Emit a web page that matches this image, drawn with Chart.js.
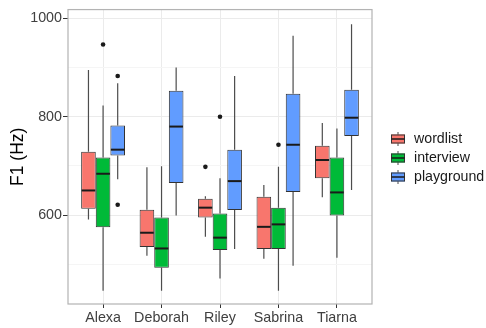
<!DOCTYPE html>
<html><head><meta charset="utf-8">
<script src="https://cdn.jsdelivr.net/npm/chart.js@4/dist/chart.umd.min.js"></script>
<style>html,body{margin:0;padding:0;background:#fff}</style>
</head><body>
<canvas id="c" width="486" height="328"></canvas>
<script>
const categories = ['Alexa','Deborah','Riley','Sabrina','Tiarna'];
const seriesNames = ['wordlist','interview','playground'];
// each row: [lower whisker, Q1, median, Q3, upper whisker]
const wordlistStats   = [[591,613,650,729,895],[517,535,564,611,697],[556,595,615,633,638],[511,531,576,637,661],[636,675,712,741,787]];
const interviewStats  = [[446,575,684,717,823],[446,493,532,595,699],[471,529,554,603,675],[446,531,581,615,698],[513,599,646,717,776]];
const playgroundStats = [[673,721,733,782,868],[599,665,780,853,900],[531,610,669,733,883],[497,647,743,847,965],[651,761,798,855,988]];
const wordlistOutliers   = [[],[],[698],[],[]];
const interviewOutliers  = [[947],[],[800],[743],[]];
const playgroundOutliers = [[883,621],[],[],[],[]];
const yTicks = [500,600,700,800,900,1000];
const yLabels = [600,800,1000];

const fills = ['#F8766D','#00BA38','#619CFF'];
const statsList = [wordlistStats, interviewStats, playgroundStats];
const outList = [wordlistOutliers, interviewOutliers, playgroundOutliers];
const FONT = '"Liberation Sans", Arial, Helvetica, sans-serif';
Chart.defaults.font.family = FONT;

const datasets = seriesNames.map((n,s)=>({
  label:n,
  data: statsList[s].map((r,i)=>({x:i, y:[r[1], r[3]]})),
  backgroundColor: fills[s],
  borderColor:'#333333',
  borderWidth:1,
  borderSkipped:false,
  categoryPercentage:0.75,
  barPercentage:1
}));

const boxPlugin = {
  id:'boxplot',
  beforeDatasetsDraw(chart){
    const y = chart.scales.y, ctx = chart.ctx;
    ctx.save();
    ctx.strokeStyle='#4d4d4d'; ctx.lineWidth=1.2;
    chart.data.datasets.forEach((ds,s)=>{
      chart.getDatasetMeta(s).data.forEach((bar,i)=>{
        const r = statsList[s][i];
        ctx.beginPath();
        ctx.moveTo(bar.x, y.getPixelForValue(r[0])); ctx.lineTo(bar.x, y.getPixelForValue(r[1]));
        ctx.moveTo(bar.x, y.getPixelForValue(r[3])); ctx.lineTo(bar.x, y.getPixelForValue(r[4]));
        ctx.stroke();
      });
    });
    ctx.restore();
  },
  afterDatasetsDraw(chart){
    const y = chart.scales.y, ctx = chart.ctx, a = chart.chartArea;
    ctx.save();
    chart.data.datasets.forEach((ds,s)=>{
      chart.getDatasetMeta(s).data.forEach((bar,i)=>{
        const r = statsList[s][i];
        const m = y.getPixelForValue(r[2]);
        ctx.strokeStyle='#1a1a1a'; ctx.lineWidth=2;
        ctx.beginPath(); ctx.moveTo(bar.x-bar.width/2+0.5, m); ctx.lineTo(bar.x+bar.width/2-0.5, m); ctx.stroke();
        ctx.fillStyle='#1a1a1a';
        outList[s][i].forEach(v=>{
          ctx.beginPath(); ctx.arc(bar.x, y.getPixelForValue(v), 2.3, 0, Math.PI*2); ctx.fill();
        });
      });
    });
    // panel border
    ctx.strokeStyle='#b3b3b3'; ctx.lineWidth=1.2;
    ctx.strokeRect(a.left, a.top, a.right-a.left, a.bottom-a.top);
    // legend
    const kx = 391, kw = 14, ly0 = 139, ldy = 19;
    seriesNames.forEach((n,s)=>{
      const cy = ly0 + s*ldy;
      ctx.strokeStyle='#4d4d4d'; ctx.lineWidth=1;
      ctx.beginPath(); ctx.moveTo(kx+kw/2, cy-7); ctx.lineTo(kx+kw/2, cy+7); ctx.stroke();
      ctx.fillStyle=fills[s]; ctx.fillRect(kx, cy-4.5, kw, 9);
      ctx.strokeStyle='#333333'; ctx.strokeRect(kx+0.5, cy-4, kw-1, 8);
      ctx.strokeStyle='#1a1a1a'; ctx.lineWidth=1.5;
      ctx.beginPath(); ctx.moveTo(kx+0.5, cy); ctx.lineTo(kx+kw-0.5, cy); ctx.stroke();
      ctx.fillStyle='#1a1a1a'; ctx.font='14.2px '+FONT; ctx.textBaseline='middle'; ctx.textAlign='left';
      ctx.fillText(n, 414, cy);
    });
    ctx.restore();
  }
};

new Chart(document.getElementById('c'), {
  type:'bar',
  data:{ datasets },
  options:{
    responsive:false, animation:false, devicePixelRatio:1,
    layout:{ padding:{ top:5, right:114, left:0, bottom:0 } },
    plugins:{ legend:{display:false}, tooltip:{enabled:false} },
    scales:{
      x:{
        type:'linear', min:-0.6, max:4.6, offset:false,
        afterBuildTicks: s => { s.ticks = categories.map((_,i)=>({value:i})); },
        afterFit: s => { s.height = 24; },
        grid:{ offset:false, color:'#ebebeb', lineWidth:1, tickColor:'#333333', tickLength:4 },
        border:{ display:false },
        ticks:{ callback: v => categories[v] ?? '', color:'#404040', font:{size:14.3}, padding:1, maxRotation:0, autoSkip:false }
      },
      y:{
        min:419, max:1018,
        afterBuildTicks: s => { s.ticks = yTicks.map(v=>({value:v})); },
        afterFit: s => { s.width = 68; },
        grid:{
          color: c => (c.tick && yLabels.includes(c.tick.value)) ? '#ebebeb' : '#f5f5f5',
          lineWidth: 1,
          tickColor: c => (c.tick && yLabels.includes(c.tick.value)) ? '#333333' : 'rgba(0,0,0,0)',
          tickLength:5
        },
        border:{ display:false },
        ticks:{ callback: v => yLabels.includes(v) ? String(v) : '', color:'#404040', font:{size:14.3}, padding:1, autoSkip:false },
        title:{ display:true, text:'F1 (Hz)', color:'#000000', font:{size:17.5}, padding:{top:8, bottom:0} }
      }
    }
  },
  plugins:[boxPlugin]
});
</script>
</body></html>
